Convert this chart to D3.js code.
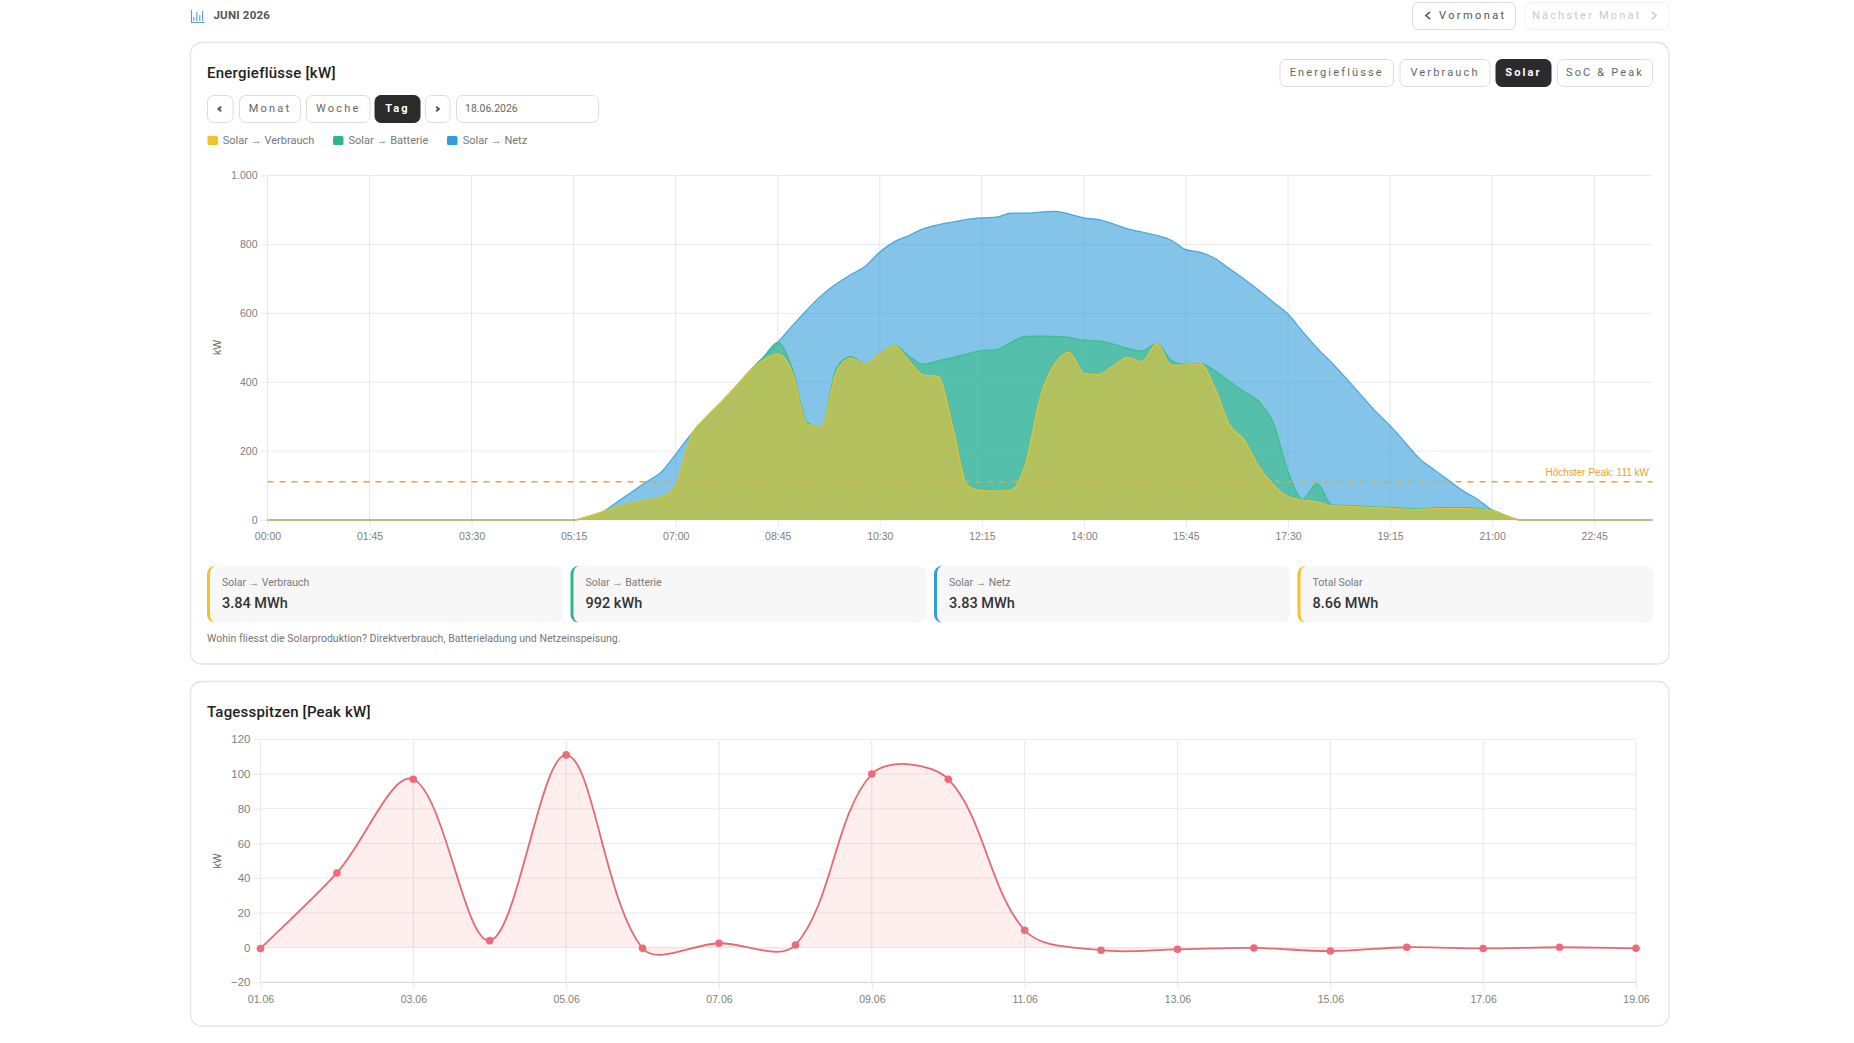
<!DOCTYPE html>
<html lang="de"><head><meta charset="utf-8"><title>Energieflüsse</title>
<script src="https://cdn.jsdelivr.net/npm/d3@7/dist/d3.min.js"></script>
<style>
html,body{margin:0;padding:0;background:#fff;overflow:hidden}
svg{display:block}
.ui{font-family:Roboto,"Liberation Sans",sans-serif}
.ax{font-family:"Liberation Sans",Arial,sans-serif}
</style></head><body><svg id="c" width="1854" height="1043" viewBox="0 0 1854 1043"></svg>
<script>
// ---- Data ----
const leadZeros = [0,0,0,0,0,0,0,0,0,0,0,0,0,0,0,0,0,0,0,0,0];
const tailZeros = [0,0,0,0,0,0,0,0,0];
const solarVerbrauch = [...leadZeros,0,10,24,39,50,58,67,101,241,294,337,381,429,464,482,429,279,270,429,470,453,482,506,462,421,417,270,101,85,84,87,164,356,453,487,426,422,448,472,460,512,450,450,453,382,276,232,155,102,68,58,53,42,40,38,36,34,32,31,33,34,34,32,27,12,0,...tailZeros];
const solarBatterie = [...leadZeros,0,0,0,0,0,0,0,0,0,0,0,0,0,8,34,10,5,0,10,4,0,0,2,14,32,45,202,381,407,410,429,369,178,80,43,96,98,63,26,31,0,13,1,1,51,126,140,189,179,73,2,53,2,2,2,2,2,2,2,2,2,2,2,2,0,0,...tailZeros];
const solarNetz = [...leadZeros,0,0,0,14,32,53,72,90,5,0,0,0,0,0,0,125,326,382,246,238,284,296,300,350,393,395,393,391,385,385,375,358,360,363,358,355,352,349,347,345,314,349,334,323,326,327,327,323,351,457,487,393,413,369,323,278,238,193,146,112,80,49,26,0,0,0,...tailZeros];
const timeLabels = d3.range(96).map(i => String(Math.floor(i/4)).padStart(2,"0")+":"+String((i%4)*15).padStart(2,"0"));
const timeTicks = ["00:00","01:45","03:30","05:15","07:00","08:45","10:30","12:15","14:00","15:45","17:30","19:15","21:00","22:45"];
const flowTicks = [0,200,400,600,800,1000];
const peakValue = 111;
const flowSeries = ["Solar → Verbrauch","Solar → Batterie","Solar → Netz"];
const flowColors = ["#f1c32a","#34bd81","#339cdb"];
const statLabels = ["Solar → Verbrauch","Solar → Batterie","Solar → Netz","Total Solar"];
const statValues = ["3.84 MWh","992 kWh","3.83 MWh","8.66 MWh"];
const statColors = ["#f1c32a","#34b585","#339cdb","#f1c32a"];
const peakDays = ["01.06","02.06","03.06","04.06","05.06","06.06","07.06","08.06","09.06","10.06","11.06","12.06","13.06","14.06","15.06","16.06","17.06","18.06","19.06"];
const peakValues = [-0.5,43,97,4,111,-0.4,2.5,1.5,100,97,10,-1.5,-1,-0.2,-2,0.2,-0.5,0.2,-0.4];
const peakDayTicks = ["01.06","03.06","05.06","07.06","09.06","11.06","13.06","15.06","17.06","19.06"];
const peakTicks = [-20,0,20,40,60,80,100,120];

const svg = d3.select("#c");
const fmtDE = d3.formatLocale({decimal:",",thousands:".",grouping:[3],currency:["",""]}).format(",d");

// ---- helpers ----
function text(x,y,s,o={}){
  return svg.append("text").attr("class",o.cls||"ui").attr("x",x).attr("y",y).attr("dy","0.35em")
    .attr("text-anchor",o.anchor||"start").attr("font-size",o.size||12).attr("font-weight",o.weight||400)
    .attr("fill",o.fill||"#333").style("letter-spacing",o.ls?o.ls+"px":null).text(s);
}
function card(x,y,w,h){
  svg.append("rect").attr("x",x).attr("y",y).attr("width",w).attr("height",h).attr("rx",11)
    .attr("fill","#fff").attr("stroke","#e4e4e4").attr("stroke-width",1.3);
}
function button(x0,x1,y0,y1,label,o={}){
  svg.append("rect").attr("x",x0).attr("y",y0).attr("width",x1-x0).attr("height",y1-y0).attr("rx",6)
    .attr("fill",o.active?"#2b2b2b":"#fff").attr("stroke",o.active?"#2b2b2b":(o.stroke||"#dcdcdc")).attr("stroke-width",1);
  if(label) text((x0+x1)/2,(y0+y1)/2-0.5,label,{anchor:"middle",size:o.size||11,weight:o.active?700:(o.weight||400),fill:o.active?"#fff":(o.fill||"#666"),ls:o.ls===undefined?2.15:o.ls});
}
function chevron(cx,cy,dir,col,s=3,w=1.3){
  svg.append("path").attr("d",d3.line()([[cx-dir*s*0.6,cy-s],[cx+dir*s*0.6,cy],[cx-dir*s*0.6,cy+s]]))
    .attr("fill","none").attr("stroke",col).attr("stroke-width",w);
}
function styleAxis(g){
  g.selectAll("text").attr("class","ax").attr("font-size",10.5).attr("fill","#808080").attr("font-family",'"Liberation Sans",Arial,sans-serif');
  g.selectAll("line").attr("stroke","#e9e9e9");
  g.select(".domain").remove();
}
// Tension spline, weighted by the distance between neighbouring points
function tensionCurve(context){
  return {
    areaStart(){this._line=0}, areaEnd(){this._line=NaN},
    lineStart(){this._p=[]},
    point(x,y){this._p.push([+x,+y])},
    lineEnd(){
      const p=this._p,n=p.length,t=0.34;
      const cps=p.map((c,i)=>{
        const a=p[Math.max(i-1,0)],b=p[Math.min(i+1,n-1)];
        const d01=Math.hypot(c[0]-a[0],c[1]-a[1]),d12=Math.hypot(b[0]-c[0],b[1]-c[1]);
        const s=(d01+d12)||1,fa=t*d01/s,fb=t*d12/s;
        return [[c[0]-fa*(b[0]-a[0]),c[1]-fa*(b[1]-a[1])],[c[0]+fb*(b[0]-a[0]),c[1]+fb*(b[1]-a[1])]];
      });
      p.forEach((c,i)=>{
        if(i===0){ this._line?context.lineTo(c[0],c[1]):context.moveTo(c[0],c[1]); }
        else context.bezierCurveTo(cps[i-1][1][0],cps[i-1][1][1],cps[i][0][0],cps[i][0][1],c[0],c[1]);
      });
      if(this._line||(this._line!==0&&n===1)) context.closePath();
      this._line=1-this._line;
    }
  };
}

// ---- Header ----
svg.append("path").attr("d","M191.5 10V22.5H204.5").attr("fill","none").attr("stroke","#5b9bd5").attr("stroke-width",1.1);
[[193.8,17,21],[196.8,12,21],[199.8,15,21],[202.6,11,21]].forEach(b=>svg.append("line").attr("x1",b[0]).attr("x2",b[0]).attr("y1",b[1]).attr("y2",b[2]).attr("stroke","#5b9bd5").attr("stroke-width",1.1));
text(213.5,15,"JUNI 2026",{size:11.5,weight:700,fill:"#555",ls:0.2});
button(1412.5,1515.5,2.5,29.5,null,{});
text(1439,15,"Vormonat",{size:11,weight:400,fill:"#555",ls:2.4});
chevron(1428,15.5,-1,"#555",3.6,1.5);
button(1525,1669,2.5,29.5,null,{stroke:"#f1f1f1"});
text(1532,15,"Nächster Monat",{size:11,weight:400,fill:"#c9c9c9",ls:2.2});
chevron(1654,15.5,1,"#c9c9c9",3.6,1.4);

// ---- Card 1 ----
card(190.5,42.5,1478.5,621.5);
text(207,73,"Energieflüsse [kW]",{size:15,weight:500,fill:"#222",ls:0.25});
[["Energieflüsse",1280,1393.5],["Verbrauch",1400,1490],["Solar",1496,1551,true],["SoC & Peak",1557.5,1652.5]]
  .forEach(b=>button(b[1],b[2],59.5,86.5,b[0],{active:b[3]}));
button(207.5,233,95.5,122.5,null); chevron(219.8,109,-1,"#555",2.2,2);
button(239.5,300.5,95.5,122.5,"Monat");
button(306.5,370,95.5,122.5,"Woche");
button(375,420,95.5,122.5,"Tag",{active:true});
button(425.5,450,95.5,122.5,null); chevron(437.5,109,1,"#555",2.2,2);
button(456.5,598.5,95.5,122.5,null);
text(465,108.5,"18.06.2026",{size:10.5,fill:"#666"});

// Legend
[[207.5,222.8],[333,348.5],[447,462.8]].forEach((p,i)=>{
  svg.append("rect").attr("x",p[0]).attr("y",136).attr("width",10.5).attr("height",9).attr("rx",1.5).attr("fill",i===1?"#34b585":flowColors[i]);
  text(p[1],140.5,flowSeries[i],{size:11,fill:"#777"});
});

// Flow chart
const xF = d3.scalePoint().domain(timeLabels).range([267.5,1652.5]);
const yF = d3.scaleLinear().domain([0,1000]).range([520,175.5]);
const left1 = 267.5, right1 = 1652.5;
const gy = svg.append("g").attr("transform",`translate(${left1},0)`)
  .call(d3.axisLeft(yF).tickValues(flowTicks).tickSize(7).tickPadding(3).tickFormat(fmtDE));
styleAxis(gy);
svg.append("g").selectAll("line").data(flowTicks).join("line")
  .attr("x1",left1).attr("x2",right1).attr("y1",d=>yF(d)).attr("y2",d=>yF(d)).attr("stroke","#ebebeb");
const gx = svg.append("g").attr("transform","translate(0,520)")
  .call(d3.axisBottom(xF).tickValues(timeTicks).tickSize(7).tickPadding(6));
styleAxis(gx);
svg.append("g").selectAll("line").data(timeTicks).join("line")
  .attr("x1",d=>xF(d)).attr("x2",d=>xF(d)).attr("y1",175.5).attr("y2",520).attr("stroke","#e6e6e6");
svg.append("text").attr("class","ax").attr("transform","translate(217.5,347.5) rotate(-90)").attr("text-anchor","middle").attr("dy","0.35em")
  .attr("font-size",10.5).attr("fill","#666").text("kW");

const flowRows = timeLabels.map((t,i)=>({t,v:solarVerbrauch[i],b:solarBatterie[i],n:solarNetz[i]}));
const stacked = d3.stack().keys(["v","b","n"])(flowRows);
[2,1,0].forEach(k=>{
  const area = d3.area().x((d,i)=>xF(timeLabels[i])).y0(yF(0)).y1(d=>yF(d[1])).curve(d3.curveMonotoneX);
  const line = d3.line().x((d,i)=>xF(timeLabels[i])).y(d=>yF(d[1])).curve(d3.curveMonotoneX);
  svg.append("path").datum(stacked[k]).attr("d",area).attr("fill",flowColors[k]).attr("fill-opacity",0.6);
  svg.append("path").datum(stacked[k]).attr("d",line).attr("fill","none").attr("stroke",flowColors[k]).attr("stroke-width",1.2).attr("stroke-opacity",0.85);
});
svg.append("line").attr("x1",left1).attr("x2",right1).attr("y1",yF(peakValue)).attr("y2",yF(peakValue))
  .attr("stroke","#f2a22e").attr("stroke-width",1.7).attr("stroke-dasharray","6 6");
text(1649,472.5,`Höchster Peak: ${peakValue} kW`,{cls:"ax",anchor:"end",size:10,fill:"#f0a030"});

// Stat tiles
statLabels.forEach((l,i)=>{
  const x = [207,570.5,934,1297.5][i], w = 356;
  svg.append("rect").attr("x",x).attr("y",566).attr("width",w).attr("height",56.5).attr("rx",8).attr("fill","#f7f7f7");
  svg.append("path").attr("d",`M${x+8} 566 A8 8 0 0 0 ${x} 574 V614.5 A8 8 0 0 0 ${x+8} 622.5 A6 8 0 0 1 ${x+3} 614.5 V574 A6 8 0 0 1 ${x+8} 566 Z`).attr("fill",statColors[i]);
  text(x+15,582.5,l,{size:10.5,fill:"#777"});
  text(x+15,602.5,statValues[i],{size:14.5,weight:500,fill:"#333"});
});
text(207,638.5,"Wohin fliesst die Solarproduktion? Direktverbrauch, Batterieladung und Netzeinspeisung.",{size:10.5,fill:"#777",ls:0.03});

// ---- Card 2 ----
card(190.5,681.5,1478.5,344.5);
text(207,712,"Tagesspitzen [Peak kW]",{size:15,weight:500,fill:"#222",ls:0.2});
const xP = d3.scalePoint().domain(peakDays).range([260.5,1636]);
const yP = d3.scaleLinear().domain([-20,120]).range([982.3,739.3]);
const gyP = svg.append("g").attr("transform","translate(260.5,0)")
  .call(d3.axisLeft(yP).tickValues(peakTicks).tickSize(7).tickPadding(3));
styleAxis(gyP); gyP.selectAll("text").attr("font-size",11.5);
svg.append("g").selectAll("line").data(peakTicks).join("line")
  .attr("x1",260.5).attr("x2",1636).attr("y1",d=>yP(d)).attr("y2",d=>yP(d)).attr("stroke",d=>d===-20?"#cfcfcf":"#ebebeb");
const gxP = svg.append("g").attr("transform","translate(0,982.3)")
  .call(d3.axisBottom(xP).tickValues(peakDayTicks).tickSize(7).tickPadding(6));
styleAxis(gxP);
svg.append("g").selectAll("line").data(peakDayTicks).join("line")
  .attr("x1",d=>xP(d)).attr("x2",d=>xP(d)).attr("y1",741).attr("y2",982.3).attr("stroke","#e6e6e6");
svg.append("text").attr("class","ax").attr("transform","translate(217.5,861) rotate(-90)").attr("text-anchor","middle").attr("dy","0.35em")
  .attr("font-size",10.5).attr("fill","#666").text("kW");
const peakRows = peakDays.map((d,i)=>({d,v:peakValues[i]}));
svg.append("path").datum(peakRows)
  .attr("d",d3.area().x(d=>xP(d.d)).y0(yP(0)).y1(d=>yP(d.v)).curve(tensionCurve))
  .attr("fill","#f25c5c").attr("fill-opacity",0.1);
svg.append("path").datum(peakRows)
  .attr("d",d3.line().x(d=>xP(d.d)).y(d=>yP(d.v)).curve(tensionCurve))
  .attr("fill","none").attr("stroke","#e26a72").attr("stroke-width",1.8);
svg.append("g").selectAll("circle").data(peakRows).join("circle")
  .attr("cx",d=>xP(d.d)).attr("cy",d=>yP(d.v)).attr("r",3.8).attr("fill","#ee6a78");
</script></body></html>
